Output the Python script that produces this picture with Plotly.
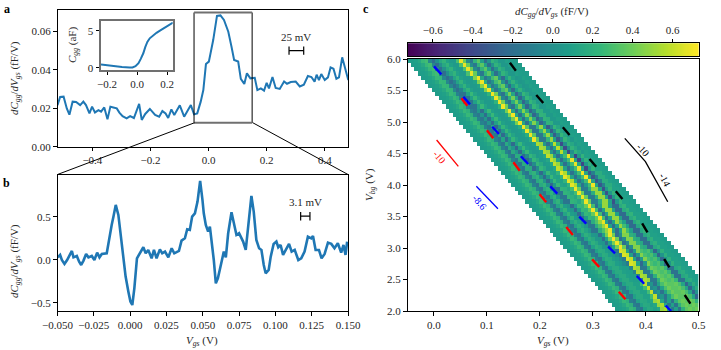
import numpy as np
import plotly.graph_objects as go

W, H = 721, 350
BLUE = '#1f77b4'
SERIF = 'Liberation Serif'
INK = '#262626'

# panel a
a_vgs = [-.520,-.511,-.499,-.488,-.479,-.468,-.456,-.442,-.431,-.422,-.410,-.401,-.391,-.379,-.370,-.359,-.348,-.338,-.328,-.316,
         -.307,-.296,-.282,-.270,-.257,-.239,-.230,-.218,-.202,-.184,-.170,-.159,-.148,-.139,-.128,-.118,-.099,-.084,-.061,-.050,
         -.039,-.027,-.018,-.009,.001,.016,.029,.041,.053,.068,.079,.088,.102,.111,.123,.132,.144,.159,.168,.180,
         .191,.200,.208,.220,.231,.245,.260,.270,.283,.300,.314,.328,.342,.354,.365,.372,.380,.388,.400,.411,
         .420,.430,.440,.449,.460,.470,.481]
a_dc = [.0216,.0258,.0260,.0199,.0166,.0234,.0232,.0216,.0234,.0216,.0173,.0208,.0178,.0190,.0182,.0204,.0142,.0208,.0204,.0199,
        .0177,.0159,.0147,.0159,.0149,.0222,.0139,.0170,.0196,.0165,.0156,.0185,.0173,.0149,.0194,.0165,.0215,.0156,.0216,.0168,
        .0173,.0234,.0294,.0429,.0442,.0554,.0679,.0682,.0658,.0597,.0519,.0450,.0442,.0352,.0326,.0381,.0355,.0358,.0294,.0303,
        .0291,.0332,.0303,.0362,.0305,.0300,.0339,.0327,.0336,.0338,.0313,.0322,.0367,.0362,.0338,.0374,.0346,.0377,.0346,.0360,
        .0412,.0405,.0353,.0360,.0464,.0407,.0346]

# inset of panel a
inset_vgs = [-.24,-.2,-.15,-.1,-.05,-.03,-.01,.01,.025,.042,.055,.069,.085,.109,.13,.153,.175,.198,.22,.24]
inset_c = [.42,.3,.18,.08,.02,.03,.2,.6,1.2,1.96,2.8,3.5,4.0,4.45,4.75,5.04,5.3,5.59,5.85,6.13]

# panel b
b_vgs = [-.0498,-.0482,-.0470,-.0452,-.0434,-.0420,-.0401,-.0390,-.0367,-.0351,-.0337,-.0321,-.0303,-.0287,-.0264,-.0246,-.0227,-.0211,-.0195,-.0161,
         -.0145,-.0127,-.0115,-.0099,-.0081,-.0065,-.0047,-.0031,-.0012,.0002,.0015,.0029,.0047,.0068,.0091,.0107,.0125,.0148,.0164,.0182,
         .0205,.0221,.0240,.0263,.0286,.0304,.0336,.0354,.0377,.0393,.0411,.0427,.0446,.0464,.0482,.0498,.0507,.0521,.0537,.0549,
         .0562,.0576,.0590,.0604,.0617,.0636,.0645,.0659,.0675,.0698,.0716,.0732,.0750,.0766,.0778,.0796,.0812,.0835,.0851,.0869,
         .0888,.0904,.0920,.0933,.0954,.0968,.0988,.1007,.1020,.1036,.1053,.1071,.1094,.1112,.1133,.1158,.1178,.1201,.1224,.1247,
         .1259,.1277,.1300,.1318,.1339,.1362,.1385,.1407,.1430,.1453,.1469,.1483,.1494]
b_dc = [.027,.055,-.004,-.050,-.004,.043,.101,.027,.043,-.023,-.062,-.011,.066,.027,.043,-.004,.082,.027,.066,.074,
        .248,.403,.500,.636,.520,.287,.074,-.197,-.372,-.488,-.527,-.333,.016,.074,.144,.074,.113,.016,.113,.016,
        .120,.074,.093,.027,.132,.074,.101,.221,.248,.353,.345,.500,.539,.675,.915,.694,.539,.403,.326,.384,
        .210,-.004,-.275,-.217,-.120,.055,.093,.027,.307,.551,.403,.287,.307,.248,.210,.113,.384,.741,.558,.229,
        .132,.113,-.062,-.159,-.120,.035,.183,.210,.144,.171,.055,.113,.183,.093,.113,-.004,.016,.093,.268,.248,
        .276,.113,.113,.016,.066,.198,.183,.132,.190,.082,.171,.055,.210]

# panel c: cross sections of the band, left edge to right edge, top to bottom
band_profiles = [
    [.07,.08,.1,.15,.25,.28,-.05,-.2,0,.15,.22,.1,.06,.06,.3,.68,.38,-.02,-.15,.22,.35,.1,-.2,.02,.22,.15,.05,.05,.1,.08,.07,.07],
    [.07,.08,.1,.15,.25,.24,-.05,-.2,-.08,.12,.22,.1,.06,.06,.1,.45,.7,.15,-.15,0,.28,.38,.02,-.22,.08,.22,.1,.04,.06,.1,.08,.07],
    [.07,.08,.1,.15,.25,.2,-.08,-.16,-.16,.1,.25,.12,.06,.06,.08,.22,.7,.42,-.05,-.18,.18,.42,.12,-.25,-.02,.24,.16,.05,.06,.1,.08,.07],
    [.07,.08,.1,.15,.25,.2,-.08,-.15,.04,-.2,.1,.25,.1,.06,.06,.1,.42,.7,.12,-.2,.12,.45,.18,-.25,-.06,.22,.2,.06,.06,.1,.08,.07],
    [.07,.08,.1,.15,.25,.2,-.08,-.16,.12,-.22,.04,.24,.12,.06,.06,.08,.18,.7,.36,-.15,-.14,.22,.5,.1,-.3,-.03,.24,.14,.05,.1,.08,.07],
    [.07,.08,.1,.15,.25,.2,-.08,-.16,.16,.04,-.22,.1,.25,.1,.06,.06,.1,.55,.5,.04,-.2,.1,.58,.2,-.38,0,.22,.14,.06,.1,.08,.07],
    [.07,.08,.1,.15,.25,.2,-.08,-.16,.18,.16,-.22,-.02,.24,.16,.06,.08,.14,.6,.5,.1,-.2,.05,.28,.68,.12,-.42,.05,.22,.1,.1,.08,.07],
    [.07,.08,.1,.15,.25,.2,-.08,-.16,.16,.22,.03,-.22,.05,.25,.12,.1,.22,.68,.55,.12,-.18,.05,.28,.7,.12,-.32,-.1,.18,.18,.1,.08,.07],
    [.07,.08,.1,.15,.25,.2,-.08,-.16,.14,.22,.05,-.16,-.16,.22,.2,.14,.28,.7,.4,-.12,-.12,.18,.5,.5,.1,-.36,.05,.22,.1,.1,.08,.07],
    [.07,.08,.1,.15,.25,.2,-.08,-.16,.12,.22,.08,.03,-.22,.06,.25,.22,.38,.7,.28,-.2,.1,.5,.5,.1,-.22,-.22,.16,.22,.1,.1,.08,.07],
    [.07,.08,.1,.15,.25,.2,-.1,-.16,.12,.2,.12,.03,-.16,-.16,.18,.32,.5,.68,.1,-.22,.1,.5,.28,.1,-.22,-.22,.14,.22,.1,.1,.08,.07],
    [.07,.08,.1,.15,.25,.2,-.1,-.16,.1,.2,.15,.05,.03,-.2,.1,.42,.7,.4,-.2,-.03,.45,.45,.2,.15,-.2,-.2,.14,.2,.1,.1,.08,.07],
    [.07,.08,.1,.15,.25,.2,-.1,-.16,.1,.18,.16,.08,.05,-.02,-.14,.65,.6,.1,-.24,.05,.45,.3,.25,.3,.15,-.25,.03,.2,.1,.1,.08,.07],
    [.07,.08,.1,.15,.25,.2,-.1,-.16,.1,.16,.16,.1,.08,.08,-.08,.55,.5,-.14,-.14,.2,.4,.35,.3,.35,.25,-.18,-.18,.14,.18,.1,.08,.07],
    [.07,.08,.1,.15,.25,.2,-.1,-.16,.1,.16,.16,.1,.1,.28,.6,-.04,.03,-.18,.1,.3,.4,.35,.35,.38,.3,.12,-.25,.03,.18,.1,.08,.07],
    [.07,.08,.1,.15,.25,.2,-.1,-.16,.1,.16,.15,.1,.14,.5,.55,.14,-.15,.1,-.18,.2,.35,.4,.35,.4,.35,.2,.05,-.25,.05,.12,.08,.07],
]
n_rows, n_cols = 61, 84
cbar_ticks = [-.6,-.4,-.2,0,.2,.4,.6]
cbar_min, cbar_max = -.7265, .73

red_dash_x = [[.0517,.063],[.100,.112],[.150,.162],[.1994,.212],[.2498,.2623],[.2988,.312],[.349,.3617]]
red_dash_y = [[5.376,5.259],[4.868,4.741],[4.36,4.227],[3.852,3.725],[3.333,3.206],[2.82,2.698],[2.306,2.186]]
blue_dash_x = [[0,.014],[.0555,.068],[.11,.1226],[.164,.178],[.2196,.2328],[.2743,.2875],[.329,.342],[.383,.397],[.4377,.4479]]
blue_dash_y = [[5.884,5.757],[5.40,5.28],[4.925,4.81],[4.456,4.333],[3.979,3.862],[3.497,3.386],[3.02,2.916],[2.556,2.433],[2.084,2.0]]
black_dash_x = [[.1434,.1547],[.1932,.2064],[.2434,.256],[.2938,.3064],[.3434,.356],[.3932,.4032],[.4347,.4447],[.4736,.4843]]
black_dash_y = [[5.94,5.814],[5.429,5.302],[4.916,4.794],[4.413,4.29],[3.9,3.778],[3.392,3.249],[2.825,2.694],[2.254,2.116]]

red_ref_x, red_ref_y = [.005,.046], [4.714,4.296]
blue_ref_x, blue_ref_y = [.08,.1208], [3.979,3.624]
black_ref_x, black_ref_y = [.3604,.3994,.4415], [4.74,4.37,3.735]


def dom_x(a, b):
    return [a/W, b/W]

def dom_y(top, bottom):
    return [1-bottom/H, 1-top/H]

def dashes(xs, ys):
    px, py = [], []
    for x, y in zip(xs, ys):
        px += x + [None]
        py += y + [None]
    return px, py

fig = go.Figure()

fig.add_trace(go.Scatter(x=a_vgs, y=a_dc, mode='lines', line=dict(color=BLUE, width=2), xaxis='x', yaxis='y'))
fig.add_trace(go.Scatter(x=[.277,.3275], y=[.0499,.0499], mode='lines+markers', line=dict(color='black', width=1.2),
                         marker=dict(symbol='line-ns', size=6, line=dict(width=1.2, color='black')), xaxis='x', yaxis='y'))
fig.add_trace(go.Scatter(x=inset_vgs, y=inset_c, mode='lines', line=dict(color=BLUE, width=2), xaxis='x2', yaxis='y2'))
fig.add_trace(go.Scatter(x=b_vgs, y=b_dc, mode='lines', line=dict(color=BLUE, width=2.6), xaxis='x3', yaxis='y3'))
fig.add_trace(go.Scatter(x=[.1174,.1238], y=[.505,.505], mode='lines+markers', line=dict(color='black', width=1.2),
                         marker=dict(symbol='line-ns', size=6, line=dict(width=1.2, color='black')), xaxis='x3', yaxis='y3'))

# the band moves one column to the right per row
z = np.full((n_rows, n_cols), np.nan)
for i in range(n_rows):
    prof = band_profiles[i*len(band_profiles)//n_rows]
    for j, v in enumerate(prof):
        if i+j < n_cols:
            z[i, i+j] = v

fig.add_trace(go.Heatmap(
    x=np.linspace(-.05, .5, n_cols+1), y=np.linspace(6, 2, n_rows+1), z=z,
    colorscale='Viridis', zmin=cbar_min, zmax=cbar_max, xaxis='x4', yaxis='y4', hoverongaps=False, showscale=False))

# colour bar as its own small axis so the ticks can sit on top
cbar_vals = np.linspace(cbar_min, cbar_max, 256)
fig.add_trace(go.Heatmap(x=cbar_vals, y=[0, 1], z=[cbar_vals, cbar_vals], colorscale='Viridis', zmin=cbar_min, zmax=cbar_max,
                         xaxis='x5', yaxis='y5', showscale=False))

for xs, ys, col in [(red_dash_x, red_dash_y, 'red'), (blue_dash_x, blue_dash_y, 'blue'), (black_dash_x, black_dash_y, 'black')]:
    px, py = dashes(xs, ys)
    fig.add_trace(go.Scatter(x=px, y=py, mode='lines', line=dict(color=col, width=2.4), xaxis='x4', yaxis='y4'))
for xs, ys, col in [(red_ref_x, red_ref_y, 'red'), (blue_ref_x, blue_ref_y, 'blue'), (black_ref_x, black_ref_y, 'black')]:
    fig.add_trace(go.Scatter(x=xs, y=ys, mode='lines', line=dict(color=col, width=1.3), xaxis='x4', yaxis='y4'))

axis_style = dict(showline=True, mirror=True, linecolor='black', linewidth=1, ticks='outside', ticklen=3.5, tickwidth=1,
                  tickcolor='black', showgrid=False, zeroline=False, automargin=False,
                  tickfont=dict(family=SERIF, size=11, color=INK))

fig.update_layout(
    width=W, height=H, margin=dict(l=0, r=0, t=0, b=0, autoexpand=False), showlegend=False,
    paper_bgcolor='white', plot_bgcolor='white',
    xaxis=dict(domain=dom_x(57.5, 348), range=[-.52,.48], tickvals=[-.4,-.2,0,.2,.4], tickformat='.1f', anchor='y', **axis_style),
    yaxis=dict(domain=dom_y(10, 146.7), range=[0,.071], tickvals=[0,.02,.04,.06], tickformat='.2f', anchor='x', **axis_style),
    xaxis2=dict(domain=dom_x(101, 172.7), range=[-.24,.238], tickvals=[-.2,0,.2], tickformat='.1f', anchor='y2',
                **{**axis_style, 'linecolor': '#707070', 'linewidth': 2}),
    yaxis2=dict(domain=dom_y(20.7, 69.5), range=[-.25,6.4], tickvals=[0,5], tickformat='d', anchor='x2',
                **{**axis_style, 'linecolor': '#707070', 'linewidth': 2}),
    xaxis3=dict(domain=dom_x(57.5, 348), range=[-.05,.15], tickvals=[-.05,-.025,0,.025,.05,.075,.1,.125,.15], tickformat='.3f', anchor='y3', **axis_style),
    yaxis3=dict(domain=dom_y(174.5, 311), range=[-.597,.99], tickvals=[-.5,0,.5], tickformat='.1f', anchor='x3', **axis_style),
    xaxis4=dict(domain=dom_x(407.5, 698.7), range=[-.05,.5], tickvals=[0,.1,.2,.3,.4,.5], tickformat='.1f', anchor='y4', **axis_style),
    yaxis4=dict(domain=dom_y(59, 311), range=[2,6], tickvals=[2,2.5,3,3.5,4,4.5,5,5.5,6], tickformat='.1f', anchor='x4', **axis_style),
    xaxis5=dict(domain=dom_x(407.5, 698.7), range=[cbar_min,cbar_max], tickvals=cbar_ticks, tickformat='.1f', anchor='y5', side='top', **axis_style),
    yaxis5=dict(domain=dom_y(43.3, 56), range=[0,1], showticklabels=False, anchor='x5',
                **{**axis_style, 'ticks': ''}),
)

# zoom box on panel a and its connectors down to panel b
box_x0, box_x1, box_y0, box_y1 = -.05, .15, .0124, .0697
for x0, y0, x1, y1, col, lw in [(box_x0, box_y0, box_x0, box_y1, 'black', 1), (box_x1, box_y0, box_x1, box_y1, 'black', 1),
                                (box_x0, box_y0, box_x1, box_y0, '#707070', 2), (box_x0, box_y1, box_x1, box_y1, '#707070', 2)]:
    fig.add_shape(type='line', xref='x', yref='y', x0=x0, y0=y0, x1=x1, y1=y1, line=dict(color=col, width=lw))
for x0, x1 in [(194.7, 57.5), (252.7, 348)]:
    fig.add_shape(type='line', xref='paper', yref='paper', x0=x0/W, y0=1-122.7/H, x1=x1/W, y1=1-174.5/H,
                  line=dict(color='black', width=1))

def label(text, px, py, size=11, angle=0, color=INK):
    fig.add_annotation(text=text, x=px/W, y=1-py/H, xref='paper', yref='paper', showarrow=False, textangle=angle,
                       xanchor='center', yanchor='middle', font=dict(family=SERIF, size=size, color=color))

label('<b>a</b>', 7, 9, 12, color='black')
label('<b>b</b>', 7, 183, 12, color='black')
label('<b>c</b>', 366, 9, 12, color='black')
label('<i>dC<sub>gg</sub></i>/<i>dV<sub>gs</sub></i> (fF/V)', 15, 78, 11, -90)
label('<i>dC<sub>gg</sub></i>/<i>dV<sub>gs</sub></i> (fF/V)', 15, 261, 11, -90)
label('<i>C<sub>gg</sub></i> (aF)', 73, 45, 11, -90)
label('<i>V<sub>gs</sub></i> (V)', 202, 341, 11)
label('<i>V<sub>gs</sub></i> (V)', 553, 341, 11)
label('<i>V<sub>bg</sub></i> (V)', 370, 185, 11, -90)
label('<i>dC<sub>gg</sub></i>/<i>dV<sub>gs</sub></i> (fF/V)', 552, 12, 11)
label('25 mV', 296, 37, 11)
label('3.1 mV', 305, 202, 11)
label('-10', 440, 157, 10, 50, 'red')
label('-8.6', 480, 202, 10, 50, 'blue')
label('-10', 643, 149, 10, 48, 'black')
label('-14', 665, 179, 10, 62, 'black')

fig.write_html("out.html", config=dict(displayModeBar=False), post_script="document.body.style.margin='0';")
